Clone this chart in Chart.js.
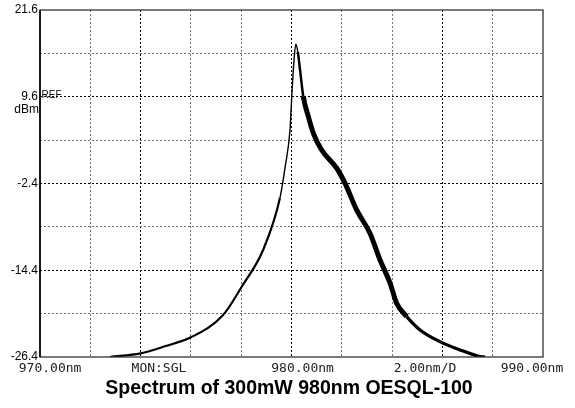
<!DOCTYPE html>
<html lang="en">
<head>
  <meta charset="UTF-8">
  <title>Spectrum of 300mW 980nm OESQL-100</title>
  <script src="https://cdn.jsdelivr.net/npm/chart.js"></script>
  <style>
    body { margin: 0; background: #fff; }
    #wrap { width: 575px; height: 408px; position: relative; }
  </style>
</head>
<body>
  <div id="wrap"><canvas id="chart"></canvas></div>
  <script>
    // wavelength (nm) and power (dBm)
    const wavelength = [972.78, 974.0, 975.0, 976.0, 977.28, 978.02, 978.87, 979.54, 979.74, 979.94,
      980.01, 980.10, 980.17, 980.25, 980.34, 980.47, 980.67, 980.87, 981.20, 981.80, 982.13,
      982.59, 983.12, 983.52, 983.92, 984.18, 984.58, 985.11, 985.90, 986.70, 987.50, 987.70];
    const power = [-26.4, -25.89, -24.88, -23.68, -20.59, -16.68, -11.60, -4.41, -0.26, 5.0,
      9.61, 14.68, 16.86, 15.84, 13.31, 9.61, 6.85, 4.55, 2.24, -0.29, -2.37,
      -6.06, -9.28, -12.97, -16.19, -18.96, -20.81, -22.65, -24.27, -25.42, -26.35, -26.4];

    const xMin = 970, xMax = 990, xStep = 2;
    const yMin = -26.4, yMax = 21.6, yStep = 6;
    const darkX = [974, 980, 986];
    const bottomLabels = ['970.00nm', 'MON:SGL', '980.00nm', '2.00nm/D', '990.00nm'];
    const bottomLabelAt = [970.4, 974.73, 980.44, 985.31, 989.56];
    const titleText = 'Spectrum of 300mW 980nm OESQL-100';

    const sans = "'Liberation Sans', Arial, sans-serif";

    const frame = {
      id: 'frame',
      afterDraw(chart) {
        const { ctx, chartArea: a, scales } = chart;
        ctx.save();
        ctx.strokeStyle = '#333';
        ctx.lineWidth = 1.3;
        ctx.strokeRect(a.left, a.top, a.right - a.left, a.bottom - a.top);
        ctx.strokeStyle = '#000';
        ctx.lineWidth = 1.6;
        ctx.beginPath(); ctx.moveTo(a.left, a.top); ctx.lineTo(a.left, a.bottom); ctx.stroke();

        const yRef = scales.y.getPixelForValue(9.6);
        ctx.fillStyle = '#000';
        ctx.font = '10px ' + sans;
        ctx.textAlign = 'left'; ctx.textBaseline = 'middle';
        ctx.fillText('REF', a.left + 1.5, yRef - 2);
        ctx.font = '12px ' + sans;
        ctx.textAlign = 'right';
        ctx.fillText('dBm', a.left - 1, yRef + 13);

        ctx.font = '13px "DejaVu Sans Mono", monospace';
        ctx.fillStyle = '#222';
        ctx.textAlign = 'center';
        bottomLabels.forEach((t, i) => {
          ctx.fillText(t, scales.x.getPixelForValue(bottomLabelAt[i]), a.bottom + 12);
        });

        ctx.font = 'bold 19.5px ' + sans;
        ctx.fillStyle = '#000';
        ctx.fillText(titleText, 289, 389);
        ctx.restore();
      }
    };

    new Chart(document.getElementById('chart'), {
      type: 'line',
      data: {
        datasets: [{
          data: wavelength.map((w, i) => ({ x: w, y: power[i] })),
          borderColor: '#000',
          borderWidth: 2,
          pointRadius: 0,
          cubicInterpolationMode: 'monotone',
          segment: {
            borderWidth: c => {
              const x = c.p0.parsed.x;
              if (x < 979) return 2.2;
              if (x < 980.2) return 1.4;
              if (x < 980.4) return 2.5;
              if (x < 984.4) return 5;
              return 3.2;
            }
          }
        }]
      },
      options: {
        responsive: true,
        maintainAspectRatio: false,
        animation: false,
        layout: { padding: { top: 10, right: 32, left: 0, bottom: 0 } },
        plugins: { legend: { display: false }, tooltip: { enabled: false }, title: { display: false } },
        scales: {
          x: {
            type: 'linear', min: xMin, max: xMax,
            ticks: { stepSize: xStep, display: false },
            grid: {
              drawTicks: false,
              lineWidth: 1,
              color: c => {
                const v = c.tick ? c.tick.value : null;
                if (v === xMin || v === xMax) return 'rgba(0,0,0,0)';
                return darkX.includes(v) ? '#000' : '#707070';
              }
            },
            border: { display: false, dash: [2, 2] },
            afterFit: s => { s.height = 51; }
          },
          y: {
            min: yMin, max: yMax,
            ticks: {
              stepSize: yStep, padding: 2, color: '#000',
              font: { family: sans, size: 12 },
              callback: (v, i) => i % 2 === 0 ? v.toFixed(1) : ''
            },
            grid: {
              drawTicks: false,
              lineWidth: 1,
              color: c => {
                const i = c.index;
                if (i === 0 || i === 8) return 'rgba(0,0,0,0)';
                return i % 2 === 0 ? '#000' : '#707070';
              }
            },
            border: { display: false, dash: [2, 2] },
            afterFit: s => { s.width = 40; }
          }
        }
      },
      plugins: [frame]
    });
  </script>
</body>
</html>
